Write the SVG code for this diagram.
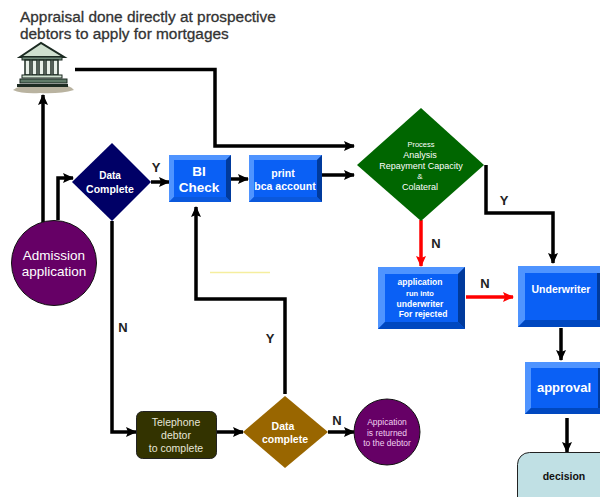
<svg xmlns="http://www.w3.org/2000/svg" width="600" height="497" viewBox="0 0 600 497">
<style>
text{font-family:"Liberation Sans",Arial,sans-serif;text-anchor:middle}
.w{fill:#fff}.b{font-weight:bold}
.c{fill:none;stroke:#000;stroke-width:3.500}
.r{fill:none;stroke:#f00;stroke-width:3.500}
.l{font-size:13px;font-weight:bold;fill:#222}
.f{fill:#0a60f5}.hi{fill:#4f94ff}.lo{fill:#0048c0}.dk{fill:#003a9c}.mid{fill:#0a58dc}
</style>
<defs>
<marker id="a" markerUnits="userSpaceOnUse" markerWidth="14" markerHeight="12" refX="11" refY="6" orient="auto"><path d="M1 1L12 6L1 11L3 6Z" fill="#000"/></marker>
<marker id="ar" markerUnits="userSpaceOnUse" markerWidth="14" markerHeight="12" refX="11" refY="6" orient="auto"><path d="M1 1L12 6L1 11L3 6Z" fill="#f00"/></marker>
</defs>
<rect width="600" height="497" fill="#fff"/>
<g id="connectors">
<path class="c" d="M43 222V95" marker-end="url(#a)"/>
<path class="c" d="M58 220V178H73" marker-end="url(#a)"/>
<path class="c" d="M151 182H169" marker-end="url(#a)"/>
<path class="c" d="M231 179H248" marker-end="url(#a)"/>
<path class="c" d="M75 69.500H215V146H354" marker-end="url(#a)"/>
<path class="c" d="M322 175H354" marker-end="url(#a)"/>
<path class="c" d="M486 165V213H553V263" marker-end="url(#a)"/>
<path class="r" d="M421 220V266" marker-end="url(#ar)"/>
<path class="r" d="M466 297H513" marker-end="url(#ar)"/>
<path class="c" d="M561 328V360" marker-end="url(#a)"/>
<path class="c" d="M567 418V452" marker-end="url(#a)"/>
<path class="c" d="M112 221V432H136" marker-end="url(#a)"/>
<path class="c" d="M216 432H243" marker-end="url(#a)"/>
<path class="c" d="M328 432H354" marker-end="url(#a)"/>
<path class="c" d="M285 394V299H196V207" marker-end="url(#a)"/>
<path d="M210 272.500H270" stroke="#f5ee9e" stroke-width="1.500" fill="none"/>
</g>
<g id="heading">
<text x="20" y="22" style="text-anchor:start;font-size:15.400px" fill="#333" stroke="#333" stroke-width=".3">Appraisal done directly at prospective</text>
<text x="20" y="39" style="text-anchor:start;font-size:15.400px" fill="#333" stroke="#333" stroke-width=".3">debtors to apply for mortgages</text>
</g>
<g id="bank">
<path d="M13 90Q20 85 30 85H60Q70 85 74 90Q60 94 40 93Q22 94 13 90Z" fill="#b9b3a0"/>
<path d="M20 57L41 43L64 57Z" fill="#cfe0cf" stroke="#1c2b22" stroke-width="2"/>
<rect x="22" y="57" width="40" height="3" fill="#6f8878" stroke="#1c2b22"/>
<g fill="#e8efe8" stroke="#1c2b22" stroke-width="1.500">
<rect x="25" y="60" width="5" height="15"/><rect x="32" y="60" width="5" height="15"/><rect x="39" y="60" width="5" height="15"/><rect x="46" y="60" width="5" height="15"/><rect x="53" y="60" width="5" height="15"/>
</g>
<rect x="22" y="75" width="40" height="3" fill="#cfe0cf" stroke="#1c2b22"/>
<rect x="20" y="79" width="47" height="4" fill="#5f7a68" stroke="#1c2b22"/>
<rect x="17" y="84" width="51" height="3" fill="#1c2b22"/>
</g>
<g id="admission">
<circle cx="54" cy="263" r="42.500" fill="#660066" stroke="#111" stroke-width="1"/>
<text class="w" font-size="13.500" x="54" y="260">Admission</text>
<text class="w" font-size="13.500" x="54" y="276">application</text>
</g>
<g id="data-complete-1">
<path d="M112 143L151 182L112 221L72 182Z" fill="#000066"/>
<text class="w b" font-size="10" x="110" y="179">Data</text>
<text class="w b" font-size="10.500" x="110" y="193">Complete</text>
</g>
<g id="bi-check">
<rect x="169" y="155" width="62" height="47" class="f"/>
<path d="M169 155H231L226 160H174V197L169 202Z" class="hi"/>
<path d="M231 155V202L226 197V160Z" class="dk"/>
<path d="M169 202H231L226 197H174Z" class="mid"/>
<text class="w b" font-size="13.500" x="199" y="176">BI</text>
<text class="w b" font-size="13.500" x="199" y="192">Check</text>
</g>
<g id="print">
<rect x="249" y="155" width="73" height="47" class="f"/>
<path d="M249 155H322L317 160H254V197L249 202Z" class="hi"/>
<path d="M322 155V202L317 197V160Z" class="dk"/>
<path d="M249 202H322L317 197H254Z" class="mid"/>
<text class="w b" font-size="10.500" x="283" y="177">print</text>
<text class="w b" font-size="10.500" x="285" y="190">bca account</text>
</g>
<g id="process">
<path d="M421 108L484 165L421 221L357 165Z" fill="#006600"/>
<text class="w" font-size="7.500" x="421" y="147">Process</text>
<text class="w" font-size="9" x="420" y="158">Analysis</text>
<text class="w" font-size="9" x="421" y="168.500">Repayment  Capacity</text>
<text class="w" font-size="8" x="420" y="179">&amp;</text>
<text class="w" font-size="9" x="420" y="189.500">Colateral</text>
</g>
<g id="rejected">
<rect x="378" y="267" width="87" height="62" class="f"/>
<path d="M378 267H465L458 274H385V322L378 329Z" class="hi"/>
<path d="M465 267V329L458 322V274Z" class="dk"/>
<path d="M378 329H465L458 322H385Z" class="lo"/>
<text class="w b" font-size="8.500" x="420" y="285">application</text>
<text class="w b" font-size="7.500" x="420" y="296">run into</text>
<text class="w b" font-size="8.500" x="420" y="307">underwriter</text>
<text class="w b" font-size="8.500" x="423" y="317">For rejected</text>
</g>
<g id="underwriter">
<rect x="518" y="266" width="82" height="61" class="f"/>
<path d="M518 266H600V273H525V320L518 327Z" class="hi"/>
<path d="M518 327H600V320H525Z" class="lo"/>
<path d="M597 273H600V320H597Z" class="dk"/>
<text class="w b" font-size="10.500" x="561" y="293">Underwriter</text>
</g>
<g id="approval">
<rect x="525" y="362" width="75" height="52" class="f"/>
<path d="M525 362H600V368H531V408L525 414Z" class="hi"/>
<path d="M525 414H600V408H531Z" class="lo"/>
<path d="M598 368H600V408H598Z" class="dk"/>
<text class="w b" font-size="13" x="564" y="392">approval</text>
</g>
<g id="decision">
<rect x="517.500" y="452.500" width="95" height="60" rx="12" fill="#c0e0e4" stroke="#222"/>
<text class="b" font-size="10.500" x="564" y="480" fill="#111">decision</text>
</g>
<g id="telephone">
<rect x="136.500" y="411.500" width="80" height="47" rx="6" fill="#333300" stroke="#222"/>
<text fill="#e6e6d8" font-size="10.500" x="176" y="426">Telephone</text>
<text fill="#e6e6d8" font-size="10.500" x="176" y="439">debtor</text>
<text fill="#e6e6d8" font-size="10.500" x="176" y="452">to complete</text>
</g>
<g id="data-complete-2">
<path d="M285 396L328 432L285 468L243 432Z" fill="#996600"/>
<text class="w b" font-size="10.500" x="283" y="430">Data</text>
<text class="w b" font-size="10.500" x="285" y="443">complete</text>
</g>
<g id="returned">
<circle cx="387" cy="432" r="33" fill="#660066" stroke="#111"/>
<text fill="#f0d0f0" font-size="8.500" x="387" y="425">Appication</text>
<text fill="#f0d0f0" font-size="8.500" x="387" y="436">is returned</text>
<text fill="#f0d0f0" font-size="8.500" x="387" y="446">to the debtor</text>
</g>
<g id="labels">
<text class="l" x="156" y="172">Y</text>
<text class="l" x="504" y="205">Y</text>
<text class="l" x="436" y="248">N</text>
<text class="l" x="485" y="288">N</text>
<text class="l" x="123" y="332">N</text>
<text class="l" x="270" y="343">Y</text>
<text class="l" x="337" y="425">N</text>
</g>
</svg>
